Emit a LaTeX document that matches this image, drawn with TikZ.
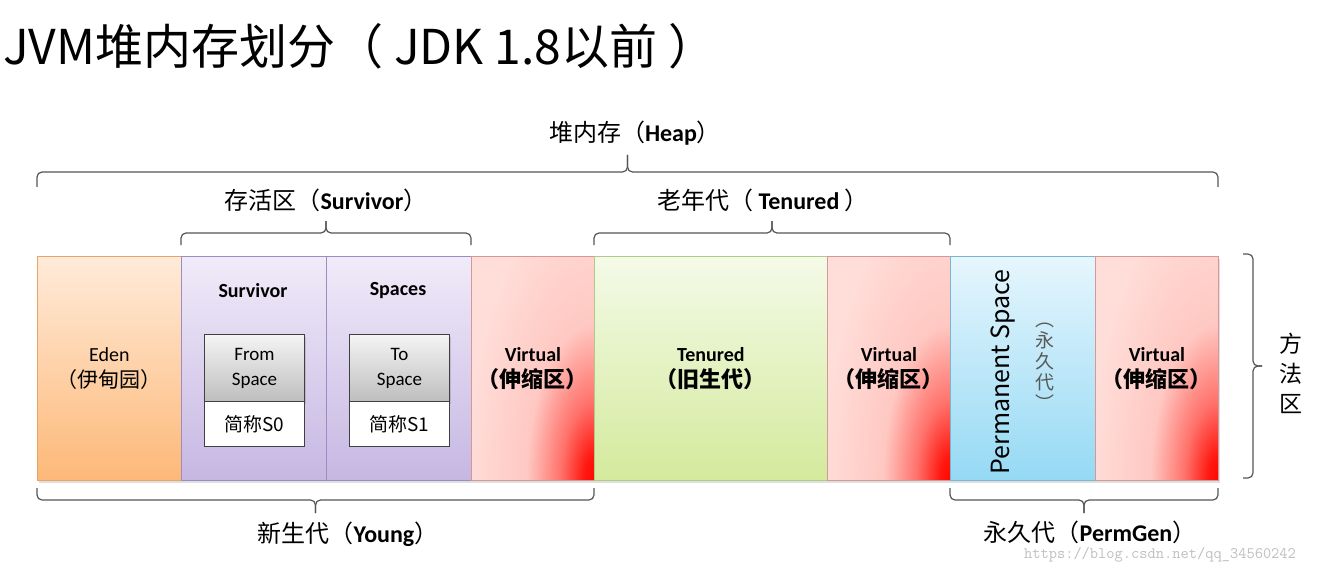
\documentclass[tikz,border=0pt]{standalone}
\usepackage{fontspec}
\setmainfont{Carlito}
\newfontfamily\cjk{Noto Sans CJK SC}
\newcommand\zh[1]{{\cjk #1}}
\newcommand\zb[1]{{\cjk\bfseries\fontsize{22}{26}\selectfont #1}}
\usetikzlibrary{shadows}
\definecolor{edenT}{HTML}{FFEBD9}
\definecolor{edenBot}{HTML}{FDB878}
\definecolor{edenB}{HTML}{E8A468}
\definecolor{purT}{HTML}{F0EBF9}
\definecolor{purBot}{HTML}{C6B7E2}
\definecolor{purB}{HTML}{9C8CC4}
\definecolor{grnT}{HTML}{F4FAE8}
\definecolor{grnBot}{HTML}{D4EA9C}
\definecolor{grnB}{HTML}{AFCB86}
\definecolor{bluT}{HTML}{E6F6FD}
\definecolor{bluBot}{HTML}{95D9F4}
\definecolor{bluB}{HTML}{7DB4CF}
\definecolor{virB}{HTML}{D69896}
\definecolor{vpl}{HTML}{FFDEDA}
\definecolor{vpk}{HTML}{FFC8C2}
\definecolor{vred}{HTML}{FF0800}
\definecolor{gT}{HTML}{F4F4F4}
\definecolor{gBot}{HTML}{BEBEBE}
\definecolor{brc}{HTML}{555555}
\pgfdeclareradialshading{vshade}{\pgfpoint{0bp}{0bp}}{color(0bp)=(vred); color(2bp)=(vred!92!vpk); color(6.5bp)=(vred!45!vpk); color(13bp)=(vpk); color(25bp)=(vpl); color(50bp)=(vpl)}
\newcommand\hbr[5]{%
  \pgfmathsetmacro\xm{(#1+#2)/2}%
  \draw[br] (#1,#3) |- (\xm,#4) -- (\xm,#5);
  \draw[br] (\xm,#5) -- (\xm,#4) -| (#2,#3);}
\begin{document}
\begin{tikzpicture}[x=1pt,y=-1pt,
  blk/.style={draw, line width=0.8pt, minimum height=224pt, inner sep=0pt, anchor=north west, align=center, font=\fontsize{20}{26}\selectfont},
  virt/.style={blk, draw=virB, minimum width=123pt, path picture={
      \fill[vpl] (path picture bounding box.north west) rectangle (path picture bounding box.south east);
      \shade[shading=vshade] (path picture bounding box.south east) ellipse [x radius=130pt, y radius=300pt];}},
  pur/.style={blk, draw=purB, top color=purT, bottom color=purBot, minimum width=145pt},
  gbox/.style={draw=black!75, line width=1pt, inner sep=0pt, anchor=north west, minimum width=100pt, align=center, font=\fontsize{19}{25}\selectfont},
  lbl/.style={font=\fontsize{24}{28}\selectfont, inner sep=1pt},
  br/.style={draw=brc, line width=1.2pt, rounded corners=5pt},
  hdr/.style={font=\bfseries\fontsize{20}{24}\selectfont}]
\fill[white] (0,0) rectangle (1330,564);
\useasboundingbox (0,0) rectangle (1330,564);
% title
\node[anchor=west, inner sep=0pt, font=\cjk\fontsize{48}{52}\selectfont] (title) at (3,46) {JVM堆内存划分（ JDK 1.8以前 ）};
% shadow bar
\node[anchor=north west, inner sep=0pt, minimum width=1181pt, minimum height=224pt, fill=white,
  drop shadow={shadow xshift=1.5pt, shadow yshift=-3pt, opacity=0.25}] (bar) at (37,256) {};
% blocks
\node[blk, draw=edenB, top color=edenT, bottom color=edenBot, minimum width=144pt] (eden) at (37,256) {Eden\\\zh{\fontsize{21}{26}\selectfont（伊甸园）}};
\node[pur] (surv) at (181,256) {};
\node[pur] (spaces) at (326,256) {};
\node[virt] (v1) at (471,256) {\textbf{Virtual}\hspace{16pt}\\\zb{（伸缩区）}};
\node[blk, draw=grnB, top color=grnT, bottom color=grnBot, minimum width=233pt] (ten) at (594,256) {\textbf{Tenured}\\\zb{（旧生代）}};
\node[virt] (v2) at (827,256) {\textbf{Virtual}\hspace{16pt}\\\zb{（伸缩区）}};
\node[blk, draw=bluB, top color=bluT, bottom color=bluBot, minimum width=145pt] (perm) at (950,256) {};
\node[virt] (v3) at (1095,256) {\textbf{Virtual}\hspace{16pt}\\\zb{（伸缩区）}};
% survivor texts
\node[hdr] (survT) at (253,291) {Survivor};
\node[hdr] (spacesT) at (398,291) {Spaces};
\node[gbox, top color=gT, bottom color=gBot, minimum height=67pt, drop shadow={shadow xshift=1pt, shadow yshift=-2pt, opacity=0.3}] (fromT) at (204,334) {From\\Space};
\node[gbox, fill=white, minimum height=45pt] (s0) at (204,401) {\zh{简称S0}};
\node[gbox, top color=gT, bottom color=gBot, minimum height=67pt, drop shadow={shadow xshift=1pt, shadow yshift=-2pt, opacity=0.3}] (toT) at (349,334) {To\\Space};
\node[gbox, fill=white, minimum height=45pt] (s1) at (349,401) {\zh{简称S1}};
% permanent texts
\node[rotate=90, inner sep=0pt, font=\cjk\fontsize{25}{28}\selectfont] (permT) at (1003,372) {Permanent Space};
\node[align=center, inner sep=0pt, text=black!65, font=\cjk\fontsize{19}{21}\selectfont] (yjd) at (1045,367) {︵\\永\\久\\代\\︶};
% braces
\hbr{37}{1218}{187}{172}{155}
\hbr{181}{471}{245}{233}{221}
\hbr{594}{950}{245}{233}{221}
\hbr{37}{594}{488}{500}{513}
\hbr{950}{1218}{488}{500}{513}
\draw[br] (1243,254) -| (1253,366) -- (1262,366);
\draw[br] (1262,366) -- (1253,366) |- (1243,478);
% labels
\node[lbl] (heapL) at (635,133) {\zh{堆内存（}\textbf{Heap}\zh{）}};
\node[lbl] (survL) at (326,200) {\zh{存活区（}\textbf{Survivor}\zh{）}};
\node[lbl] (tenL) at (763,200) {\zh{老年代（ }\textbf{Tenured}\zh{ ）}};
\node[lbl] (youngL) at (348,534) {\zh{新生代（}\textbf{Young}\zh{）}};
\node[lbl] (permL) at (1090,532) {\zh{永久代（}\textbf{PermGen}\zh{）}};
\node[align=center, inner sep=0pt, font=\cjk\fontsize{23}{30}\selectfont] (methodL) at (1291,373) {方\\法\\区};
% watermark
\node[text=black!25, inner sep=0pt, font=\ttfamily\fontsize{16}{17}\selectfont] (wm) at (1160,555) {https://blog.csdn.net/qq\_34560242};
\end{tikzpicture}
\end{document}
